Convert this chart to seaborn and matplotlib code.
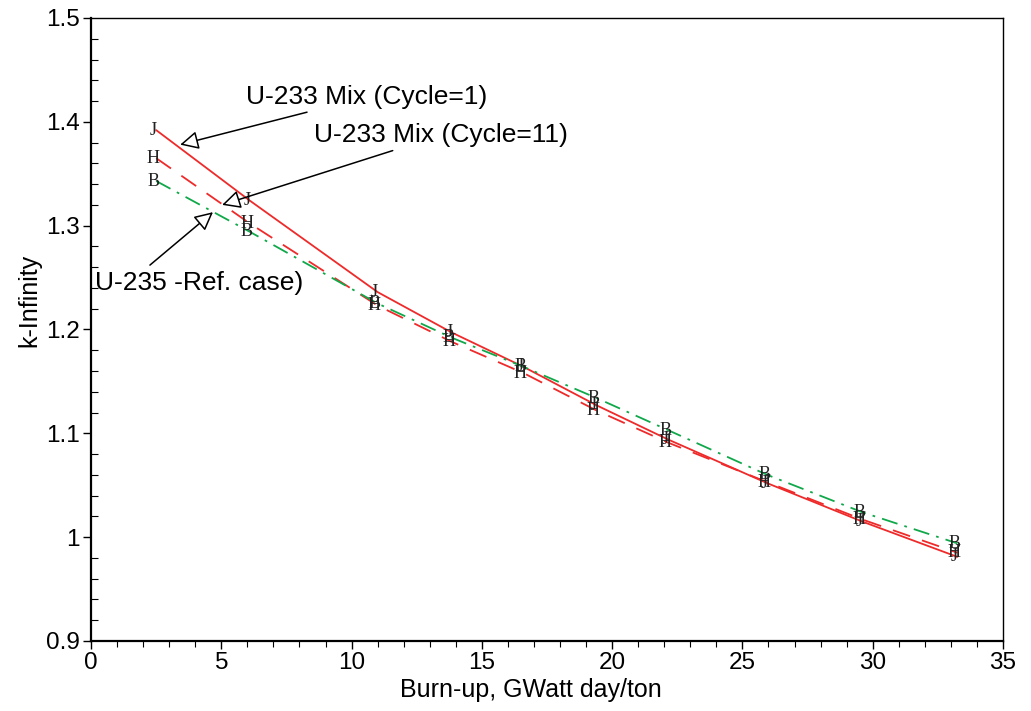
import matplotlib
matplotlib.use('Agg')
import matplotlib.pyplot as plt
from matplotlib.ticker import MultipleLocator, FormatStrFormatter
import pandas as pd
import seaborn as sns

# burn-up steps (GWatt day/ton)
burnup = [2.5, 6.1, 11.0, 13.85, 16.6, 19.4, 22.15, 25.95, 29.6, 33.25]

# k-infinity
k_cycle1 = [1.392, 1.324, 1.236, 1.197, 1.164, 1.127, 1.094, 1.052, 1.015, 0.981]
k_cycle11 = [1.365, 1.302, 1.223, 1.188, 1.158, 1.122, 1.091, 1.053, 1.017, 0.985]
k_ref = [1.343, 1.294, 1.225, 1.192, 1.164, 1.134, 1.103, 1.060, 1.024, 0.994]

series_names = ['U-233 Mix (Cycle=1)', 'U-233 Mix (Cycle=11)', 'U-235 -Ref. case)']
point_letters = ['J', 'H', 'B']

sns.set_style('ticks')
plt.rcParams['font.family'] = ['Liberation Sans', 'DejaVu Sans']
plt.rcParams['text.color'] = 'black'
plt.rcParams['axes.labelcolor'] = 'black'
plt.rcParams['xtick.color'] = 'black'
plt.rcParams['ytick.color'] = 'black'

fig = plt.figure(figsize=(10.31, 7.11), dpi=100)
ax = fig.add_axes([0.0883, 0.0985, 0.8845, 0.8762])

styles = [
    dict(color='#ee2a2a', linestyle='-', lw=1.3),
    dict(color='#ee2a2a', linestyle=(0, (10, 7)), lw=1.3),
    dict(color='#10a84a', linestyle=(0, (9, 4, 1.5, 4)), lw=1.3),
]

for name, values, letter, st in zip(series_names, [k_cycle1, k_cycle11, k_ref], point_letters, styles):
    df = pd.DataFrame({'burnup': burnup, 'k': values})
    sns.lineplot(data=df, x='burnup', y='k', ax=ax, label=name, legend=False, **st)
    for xv, yv in zip(burnup, values):
        ax.text(xv - 0.12, yv, letter, fontsize=13, family='Liberation Serif',
                ha='center', va='center', color='#222222')

ax.set_xlim(0, 35)
ax.set_ylim(0.9, 1.5)
ax.xaxis.set_major_locator(MultipleLocator(5))
ax.xaxis.set_minor_locator(MultipleLocator(1))
ax.yaxis.set_major_locator(MultipleLocator(0.1))
ax.yaxis.set_minor_locator(MultipleLocator(0.02))
ax.yaxis.set_major_formatter(FormatStrFormatter('%g'))

ax.tick_params(axis='both', which='major', labelsize=17.5, length=6, width=1, direction='out', pad=2)
ax.tick_params(axis='x', which='minor', length=4, width=0.8, direction='out')
ax.tick_params(axis='y', which='minor', length=5, width=0.8, direction='in')
for s in ax.spines.values():
    s.set_color('black')
    s.set_linewidth(1)
ax.spines['left'].set_linewidth(1.6)
ax.spines['bottom'].set_linewidth(1.6)

ax.set_xlabel('Burn-up, GWatt day/ton', fontsize=18)
ax.set_ylabel('k-Infinity', fontsize=18)
ax.xaxis.set_label_coords(0.482, -0.059)
ax.yaxis.set_label_coords(-0.055, 0.547)

arrow = dict(arrowstyle='-|>', mutation_scale=28, fc='white', ec='black', lw=1.1, shrinkA=0, shrinkB=0)
ax.annotate(series_names[0], xy=(3.42, 1.378), xytext=(5.95, 1.424), fontsize=19,
            ha='left', va='center', arrowprops=arrow)
ax.annotate(series_names[1], xy=(5.03, 1.320), xytext=(8.55, 1.387), fontsize=19,
            ha='left', va='center', arrowprops=arrow)
ax.annotate('', xy=(4.68, 1.313), xytext=(2.26, 1.262), arrowprops=arrow)
ax.text(0.15, 1.245, series_names[2], fontsize=19, ha='left', va='center')

fig.savefig('out.png', dpi=100)
plt.close(fig)
